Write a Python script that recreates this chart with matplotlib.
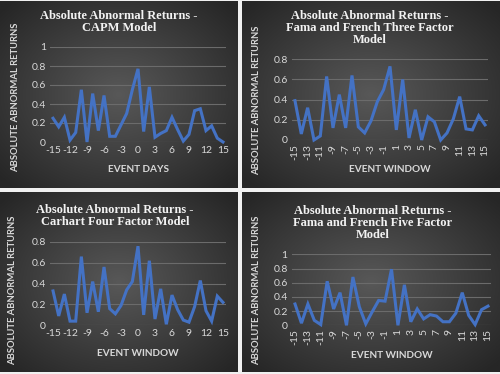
import numpy as np
import matplotlib
matplotlib.use("Agg")
from matplotlib import pyplot as plt

W, H = 500, 374  # figure size in pixels

days = list(range(-15, 16))

capm = [0.25, 0.16, 0.26, 0.02, 0.10, 0.55, 0.00, 0.51, 0.12, 0.49, 0.06, 0.06, 0.18, 0.30, 0.55, 0.77,
        0.11, 0.58, 0.05, 0.09, 0.12, 0.26, 0.13, 0.01, 0.08, 0.33, 0.35, 0.12, 0.17, 0.04, 0.00]
ff3 = [0.39, 0.06, 0.32, 0.00, 0.04, 0.63, 0.12, 0.45, 0.12, 0.64, 0.13, 0.07, 0.19, 0.38, 0.50, 0.73,
       0.10, 0.60, 0.02, 0.30, 0.00, 0.23, 0.18, 0.00, 0.07, 0.21, 0.43, 0.11, 0.10, 0.24, 0.15]
carhart = [0.33, 0.09, 0.30, 0.04, 0.04, 0.66, 0.12, 0.42, 0.13, 0.56, 0.16, 0.11, 0.19, 0.34, 0.42, 0.76,
           0.10, 0.62, 0.06, 0.35, 0.01, 0.29, 0.15, 0.05, 0.03, 0.18, 0.43, 0.14, 0.04, 0.28, 0.22]
ff5 = [0.30, 0.03, 0.30, 0.07, 0.01, 0.62, 0.23, 0.46, 0.00, 0.68, 0.26, 0.02, 0.19, 0.35, 0.34, 0.79,
       0.00, 0.57, 0.05, 0.23, 0.09, 0.15, 0.13, 0.05, 0.05, 0.17, 0.46, 0.14, 0.01, 0.22, 0.27]

titles = ["Absolute Abnormal Returns -\nCAPM Model",
          "Absolute Abnormal Returns -\nFama and French Three Factor\nModel",
          "Absolute Abnormal Returns -\nCarhart Four Factor Model",
          "Absolute Abnormal Returns -\nFama and French Five Factor\nModel"]
xlabels = ["EVENT DAYS", "EVENT WINDOW", "EVENT WINDOW", "EVENT WINDOW"]
ylabel = "ABSOLUTE ABNORMAL RETURNS"

LINE = "#4472C4"
TXT = "#d9d9d9"
GRID = "#6b6b6b"


def rect(x0, y0, x1, y1):
    return [x0 / W, 1 - y1 / H, (x1 - x0) / W, (y1 - y0) / H]


def fx(x):
    return x / W


def fy(y):
    return 1 - y / H


fig = plt.figure(figsize=(W / 100, H / 100), dpi=100)
fig.patch.set_facecolor("#f0f0f0")

# radial gradient for panel backgrounds
gy, gx = np.mgrid[-1:1:200j, -1:1:200j]
r = np.clip(np.sqrt(gx ** 2 + gy ** 2) / 1.35, 0, 1)
c_in = np.array([0x58, 0x58, 0x58]) / 255
c_out = np.array([0x26, 0x26, 0x26]) / 255
grad = c_in[None, None, :] * (1 - r[..., None]) + c_out[None, None, :] * r[..., None]

panels = [
    # panel box, plot box (pixels), y max, x tick step, tick rotation,
    # title centre/top, y label centre, x label centre
    dict(box=(0, 1, 238, 188), plot=(50.2, 47, 225.8, 142), ymax=1.0, xstep=3, rot=0,
         title=(119, 10), ylab=(16, 97), xlab=(138, 169), data=capm),
    dict(box=(242, 1, 500, 188), plot=(291.8, 59.3, 488.2, 140), ymax=0.8, xstep=2, rot=90,
         title=(370, 10), ylab=(257, 100), xlab=(390, 169), data=ff3),
    dict(box=(0, 192, 238, 372), plot=(50.2, 242, 225.8, 325.3), ymax=0.8, xstep=3, rot=0,
         title=(115, 204), ylab=(13, 290), xlab=(138, 353), data=carhart),
    dict(box=(242, 192, 500, 372), plot=(291.8, 254.3, 491.2, 325.3), ymax=1.0, xstep=2, rot=90,
         title=(373, 205), ylab=(257, 290), xlab=(392, 355), data=ff5),
]

for i, p in enumerate(panels):
    bg = fig.add_axes(rect(*p["box"]))
    bg.imshow(grad, aspect="auto", extent=(0, 1, 0, 1))
    bg.set_axis_off()

    ax = fig.add_axes(rect(*p["plot"]))
    ax.set_facecolor("none")
    ax.plot(days, p["data"], color=LINE, lw=2.2, solid_joinstyle="miter", clip_on=False, zorder=3)
    ax.set_xlim(-15.5, 15.5)
    ax.set_ylim(0, p["ymax"])
    yt = np.arange(0, p["ymax"] + 0.01, 0.2)
    ax.set_yticks(yt)
    ax.set_yticklabels([f"{v:g}" for v in np.round(yt, 1)])
    xt = list(range(-15, 16, p["xstep"]))
    ax.set_xticks(xt)
    ax.set_xticklabels([str(v) for v in xt], rotation=p["rot"])
    ax.grid(axis="y", color=GRID, lw=0.8)
    ax.set_axisbelow(True)
    for s in ax.spines.values():
        s.set_visible(False)
    ax.tick_params(length=0, colors=TXT, labelsize=7.5, pad=3)
    for lab in ax.get_xticklabels() + ax.get_yticklabels():
        lab.set_family("Lato")

    fig.text(fx(p["title"][0]), fy(p["title"][1]), titles[i], ha="center", va="top",
             family="Liberation Serif", weight="bold", fontsize=9, color="#f2f2f2",
             linespacing=0.98)
    fig.text(fx(p["ylab"][0]), fy(p["ylab"][1]), ylabel, rotation=90, ha="center", va="center",
             family="Lato", weight="bold", fontsize=6.8, color=TXT)
    fig.text(fx(p["xlab"][0]), fy(p["xlab"][1]), xlabels[i], ha="center", va="center",
             family="Lato", weight="bold", fontsize=7.2, color=TXT)

fig.savefig("out.png", dpi=100, facecolor=fig.get_facecolor())
